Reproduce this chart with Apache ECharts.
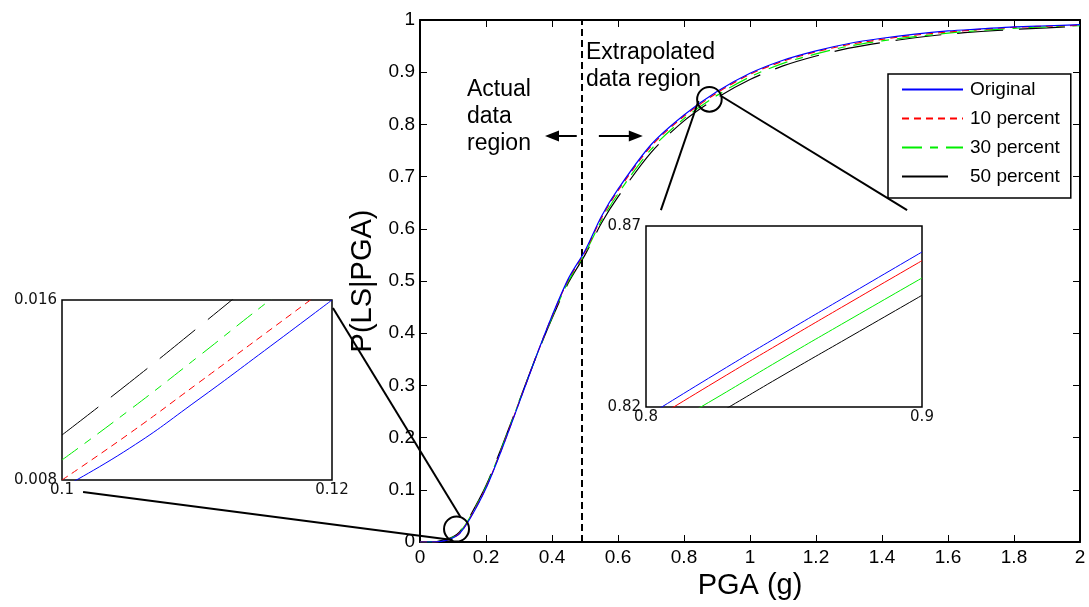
<!DOCTYPE html>
<html><head><meta charset="utf-8">
<script src="https://cdn.jsdelivr.net/npm/echarts@6/dist/echarts.min.js"></script>
<style>html,body{margin:0;padding:0;background:#fff}#c{width:1089px;height:607px}</style>
</head><body><div id="c"></div>
<script>
// ---- main chart data ----
const pga = [0, 0.05, 0.08, 0.1, 0.12, 0.15, 0.2, 0.25, 0.3, 0.35, 0.4, 0.45, 0.5, 0.55, 0.6, 0.7, 0.8, 0.9, 1.0, 1.1, 1.2, 1.3, 1.4, 1.5, 1.6, 1.7, 1.8, 1.9, 2.0];
const original = [0, 0.0003, 0.003, 0.008, 0.016, 0.043, 0.103, 0.181, 0.266, 0.352, 0.433, 0.505, 0.558, 0.624, 0.676, 0.761, 0.818, 0.863, 0.898, 0.923, 0.941, 0.955, 0.965, 0.973, 0.979, 0.983, 0.987, 0.989, 0.991];
const pct10 = [0, 0.0004, 0.0035, 0.008, 0.0167, 0.044, 0.104, 0.182, 0.267, 0.352, 0.432, 0.503, 0.556, 0.621, 0.673, 0.758, 0.8155, 0.8604, 0.896, 0.921, 0.939, 0.953, 0.963, 0.971, 0.977, 0.982, 0.986, 0.988, 0.990];
const pct30 = [0, 0.0006, 0.0045, 0.0089, 0.0181, 0.046, 0.106, 0.184, 0.268, 0.352, 0.430, 0.500, 0.553, 0.616, 0.667, 0.752, 0.811, 0.8556, 0.891, 0.917, 0.935, 0.950, 0.960, 0.968, 0.975, 0.980, 0.984, 0.987, 0.989];
const pct50 = [0, 0.0008, 0.0055, 0.0100, 0.0195, 0.048, 0.108, 0.186, 0.269, 0.352, 0.428, 0.497, 0.550, 0.611, 0.661, 0.746, 0.8067, 0.8509, 0.886, 0.912, 0.931, 0.946, 0.957, 0.966, 0.973, 0.978, 0.982, 0.985, 0.988];
const seriesNames = ['Original', '10 percent', '30 percent', '50 percent'];
const xTicks = [0, 0.2, 0.4, 0.6, 0.8, 1, 1.2, 1.4, 1.6, 1.8, 2];
const yTicks = [0, 0.1, 0.2, 0.3, 0.4, 0.5, 0.6, 0.7, 0.8, 0.9, 1];
const boundaryPGA = 0.49;

// ---- left inset (0.1-0.12 g) ----
const insetLX = [0.1, 0.105, 0.11, 0.115, 0.12];
const insetLOriginal = [0.00765, 0.00941, 0.01153, 0.01375, 0.016];
const insetL10 = [0.008, 0.01007, 0.01227, 0.01449, 0.01671];
const insetL30 = [0.00889, 0.01111, 0.01344, 0.01581, 0.0181];
const insetL50 = [0.0100, 0.01233, 0.01474, 0.0172, 0.0197];
const insetLXLabels = [0.1, 0.12];
const insetLYLabels = [0.008, 0.016];

// ---- right inset (0.8-0.9 g) ----
const insetRX = [0.8, 0.825, 0.85, 0.875, 0.9];
const insetROriginal = [0.8173, 0.82902, 0.84044, 0.85167, 0.86282];
const insetR10 = [0.8153, 0.82691, 0.83823, 0.84937, 0.86042];
const insetR30 = [0.8112, 0.8223, 0.83363, 0.84468, 0.85564];
const insetR50 = [0.8067, 0.81773, 0.82893, 0.83989, 0.85085];
const insetRXLabels = [0.8, 0.9];
const insetRYLabels = [0.82, 0.87];

const colors = ['#0000ff', '#ff0000', '#00ee00', '#000000'];
const dashes = ['solid', [7, 5], [20, 8, 8, 8], [46, 16]];
const FONT = '"Liberation Sans", Arial, Helvetica, sans-serif';
const IFONT = '"DejaVu Sans", sans-serif';

const zip = (xs, ys) => xs.map((x, i) => [x, ys[i]]);
const mainData = [original, pct10, pct30, pct50];
const lData = [insetLOriginal, insetL10, insetL30, insetL50];
const rData = [insetROriginal, insetR10, insetR30, insetR50];

const chart = echarts.init(document.getElementById('c'));

const series = [];
mainData.forEach((d, i) => {
  series.push({
    name: seriesNames[i], type: 'line', xAxisIndex: 0, yAxisIndex: 0,
    data: zip(pga, d), smooth: 0.3, symbol: 'none',
    lineStyle: { color: colors[i], width: 1.2, type: dashes[i] },
    itemStyle: { color: colors[i] }, z: 5 - i
  });
});
// dashed boundary + arrows on the main axes
series[0].markLine = {
  silent: true, animation: false,
  label: { show: false },
  data: [
    { xAxis: boundaryPGA, symbol: 'none', lineStyle: { color: '#000', width: 2, type: [7, 4] } },
    [{ coord: [0.475, 0.778], symbol: 'none' }, { coord: [0.40, 0.778], symbol: 'triangle', symbolSize: [11, 14] }],
    [{ coord: [0.542, 0.778], symbol: 'none' }, { coord: [0.654, 0.778], symbol: 'triangle', symbolSize: [11, 14] }]
  ],
  lineStyle: { color: '#000', width: 2, type: 'solid' },
  itemStyle: { color: '#000' },
  symbol: ['none', 'none']
};
lData.forEach((d, i) => {
  series.push({
    name: seriesNames[i] + ' (inset A)', type: 'line', xAxisIndex: 2, yAxisIndex: 2,
    data: zip(insetLX, d), smooth: true, symbol: 'none', clip: true,
    lineStyle: { color: colors[i], width: 1, type: dashes[i] }, z: 5
  });
});
rData.forEach((d, i) => {
  series.push({
    name: seriesNames[i] + ' (inset B)', type: 'line', xAxisIndex: 3, yAxisIndex: 3,
    data: zip(insetRX, d), smooth: true, symbol: 'none', clip: true,
    lineStyle: { color: colors[i], width: 1, type: 'solid' }, z: 5
  });
});

const mainAxisCommon = {
  type: 'value', axisLine: { show: true, onZero: false, lineStyle: { color: '#000', width: 2 } },
  axisTick: { show: true, inside: true, length: 7, lineStyle: { color: '#000', width: 1 } },
  splitLine: { show: false }
};
const insetAxis = (grid, min, max, labels, isX) => ({
  type: 'value', gridIndex: grid, min: min, max: max,
  axisLine: { show: false }, axisTick: { show: false }, splitLine: { show: false },
  axisLabel: { customValues: labels, fontFamily: IFONT, fontSize: 15, color: '#111', margin: isX ? 3 : 5 }
});

const option = {
  animation: false,
  backgroundColor: '#fff',
  textStyle: { fontFamily: FONT },
  grid: [
    { left: 420, top: 20, width: 660, height: 522 },
    { left: 62, top: 300, width: 270, height: 180, show: true, borderColor: '#000', borderWidth: 1.5, backgroundColor: '#fff', z: 4 },
    { left: 646, top: 226, width: 276, height: 181, show: true, borderColor: '#000', borderWidth: 1.5, backgroundColor: '#fff', z: 4 }
  ],
  xAxis: [
    Object.assign({}, mainAxisCommon, { gridIndex: 0, position: 'bottom', min: xTicks[0], max: xTicks[xTicks.length - 1], interval: 0.2,
      name: 'PGA (g)', nameLocation: 'middle', nameGap: 29, nameTextStyle: { fontSize: 29, color: '#000', fontFamily: FONT },
      axisLabel: { fontSize: 19, color: '#000', margin: 6, fontFamily: FONT } }),
    Object.assign({}, mainAxisCommon, { gridIndex: 0, position: 'top', min: xTicks[0], max: xTicks[xTicks.length - 1], interval: 0.2, axisLabel: { show: false } }),
    insetAxis(1, insetLXLabels[0], insetLXLabels[1], insetLXLabels, true),
    insetAxis(2, insetRXLabels[0], insetRXLabels[1], insetRXLabels, true)
  ],
  yAxis: [
    Object.assign({}, mainAxisCommon, { gridIndex: 0, position: 'left', min: yTicks[0], max: yTicks[yTicks.length - 1], interval: 0.1,
      name: 'P(LS|PGA)', nameLocation: 'middle', nameGap: 33, nameTextStyle: { fontSize: 29, color: '#000', fontFamily: FONT },
      axisLabel: { fontSize: 19, color: '#000', margin: 5, fontFamily: FONT } }),
    Object.assign({}, mainAxisCommon, { gridIndex: 0, position: 'right', min: yTicks[0], max: yTicks[yTicks.length - 1], interval: 0.1, axisLabel: { show: false } }),
    insetAxis(1, insetLYLabels[0], insetLYLabels[1], insetLYLabels, false),
    insetAxis(2, insetRYLabels[0], insetRYLabels[1], insetRYLabels, false)
  ],
  legend: {
    data: seriesNames, orient: 'vertical', left: 888, top: 74,
    padding: [6, 11, 12, 13], itemWidth: 61, itemHeight: 14, itemGap: 10,
    borderColor: '#000', borderWidth: 1.5, backgroundColor: '#fff',
    itemStyle: { opacity: 0, borderWidth: 0 },
    textStyle: { fontSize: 19, color: '#000', fontFamily: FONT, padding: [0, 0, 0, 2] },
    z: 10
  },
  series: series
};
chart.setOption(option);

// annotations anchored to data coordinates
const p = (g, pt) => chart.convertToPixel({ gridIndex: g }, pt);
const circL = p(0, [0.1107, 0.0249]);
const circR = p(0, [0.877, 0.848]);
const segs = [
  [p(1, [0.12007, 0.01564]), p(0, [0.1228, 0.0479])],
  [p(1, [0.10156, 0.00747]), p(0, [0.0985, 0.0038])],
  [p(2, [0.8054, 0.8744]), p(0, [0.8437, 0.8448])],
  [p(0, [0.9125, 0.8544]), p(2, [0.8946, 0.8744])]
];
const graphic = [];
segs.forEach(s => graphic.push({ type: 'line', z: 20, shape: { x1: s[0][0], y1: s[0][1], x2: s[1][0], y2: s[1][1] }, style: { stroke: '#000', lineWidth: 2 } }));
graphic.push({ type: 'circle', z: 20, shape: { cx: circL[0], cy: circL[1], r: 12.5 }, style: { fill: 'none', stroke: '#000', lineWidth: 2 } });
graphic.push({ type: 'circle', z: 20, shape: { cx: circR[0], cy: circR[1], r: 12.3 }, style: { fill: 'none', stroke: '#000', lineWidth: 2 } });
graphic.push({ type: 'text', left: 467, top: 76.5, z: 20, style: { text: 'Actual\ndata\nregion', fontSize: 23, fontFamily: FONT, lineHeight: 27, fill: '#000' } });
graphic.push({ type: 'text', left: 586, top: 39.5, z: 20, style: { text: 'Extrapolated\ndata region', fontSize: 23, fontFamily: FONT, lineHeight: 27, fill: '#000' } });
chart.setOption({ graphic: graphic });
</script>
</body></html>
